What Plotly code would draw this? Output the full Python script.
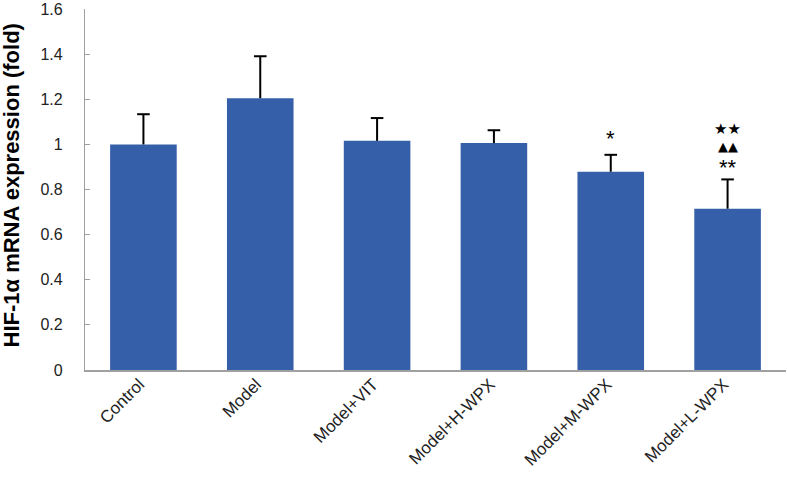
import plotly.graph_objects as go

categories = ["Control", "Model", "Model+VIT", "Model+H-WPX", "Model+M-WPX", "Model+L-WPX"]
means = [1.00, 1.205, 1.016, 1.006, 0.879, 0.715]
errors = [0.134, 0.186, 0.101, 0.057, 0.075, 0.130]
sig_marks = [[], [], [], [], ["*"], ["**", "▲▲", "★★"]]
y_ticks = [0, 0.2, 0.4, 0.6, 0.8, 1.0, 1.2, 1.4, 1.6]
y_tick_text = ["0", "0.2", "0.4", "0.6", "0.8", "1", "1.2", "1.4", "1.6"]
y_title = "HIF-1α mRNA expression (fold)"

FONT = "Arial, Liberation Sans, sans-serif"

tops = [m + e for m, e in zip(means, errors)]

fig = go.Figure()
fig.add_trace(go.Bar(
    x=categories, y=means,
    marker=dict(color="#3560a9", line=dict(width=0)),
    error_y=dict(type="data", array=errors, arrayminus=[0] * len(errors),
                 symmetric=False, color="black", thickness=2, width=0),
))
# error bar caps (top only)
fig.add_trace(go.Scatter(
    x=categories, y=tops, mode="markers", hoverinfo="skip",
    marker=dict(symbol="line-ew-open", size=9, color="black",
                line=dict(color="black", width=2)),
))

shifts_multi = [12, 33, 50]
for cat, t, marks in zip(categories, tops, sig_marks):
    for i, mk in enumerate(marks):
        is_ast = "*" in mk
        sh = 16 if len(marks) == 1 else shifts_multi[i]
        size = 22 if is_ast else (15 if "★" in mk else 13)
        fig.add_annotation(
            x=cat, y=t, xref="x", yref="y", text=mk, showarrow=False,
            yanchor="middle", yshift=sh,
            font=dict(family=FONT if is_ast else "DejaVu Sans, sans-serif",
                      size=size, color="black"),
        )

# y-axis title as annotation for precise placement
fig.add_annotation(
    x=0, y=0.5, xref="paper", yref="paper", xanchor="center", yanchor="middle",
    xshift=-74, yshift=4, textangle=-90, showarrow=False,
    text="<b>" + y_title + "</b>", font=dict(family=FONT, size=22, color="black"),
)

fig.update_layout(
    width=787, height=480,
    margin=dict(l=85, r=1, t=9, b=110),
    paper_bgcolor="white", plot_bgcolor="white",
    showlegend=False, bargap=0.43,
    font=dict(family=FONT, color="#222"),
)
fig.update_yaxes(
    range=[0, 1.6005], tickvals=y_ticks, ticktext=y_tick_text,
    automargin=False, ticklabeloverflow="allow",
    showgrid=False, zeroline=False,
    showline=True, linecolor="#a0a0a0", linewidth=1.2,
    ticks="inside", ticklen=5, tickcolor="#a0a0a0",
    tickfont=dict(size=16, color="#222"),
    ticklabelstandoff=18,
)
fig.update_xaxes(
    automargin=False,
    showgrid=False, showline=True, linecolor="#a0a0a0", linewidth=1.5,
    ticks="", tickangle=-45, tickfont=dict(size=17, color="#222"),
    ticklabelstandoff=-4, ticklabelshift=-4,
)

fig.write_html("out.html", config={"displayModeBar": False},
               post_script="document.body.style.margin='0';")
